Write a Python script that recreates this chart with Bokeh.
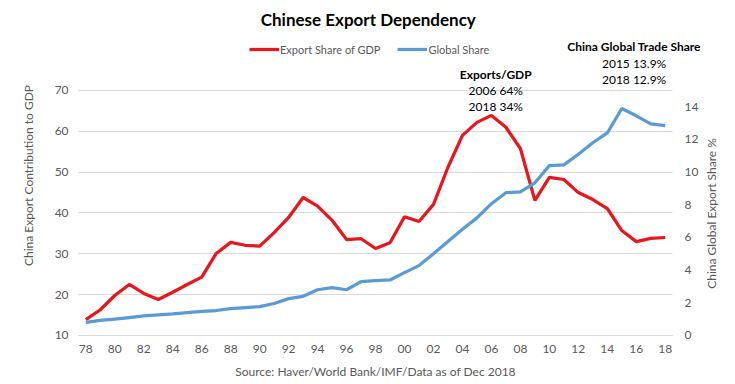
from bokeh.plotting import figure
from bokeh.models import Range1d, LinearAxis, FixedTicker, Label, Legend, LegendItem
from bokeh.embed import file_html
from bokeh.resources import INLINE

years = [1978, 1979, 1980, 1981, 1982, 1983, 1984, 1985, 1986, 1987, 1988, 1989,
         1990, 1991, 1992, 1993, 1994, 1995, 1996, 1997, 1998, 1999, 2000, 2001,
         2002, 2003, 2004, 2005, 2006, 2007, 2008, 2009, 2010, 2011, 2012, 2013,
         2014, 2015, 2016, 2017, 2018]

export_share_gdp = [13.9, 16.3, 19.8, 22.5, 20.3, 18.8, 20.6, 22.5, 24.3, 30.1, 32.8, 32.1,
                    31.9, 35.2, 38.9, 43.8, 41.7, 38.2, 33.5, 33.7, 31.3, 32.7, 39.1, 37.9,
                    42.1, 51.2, 59.0, 62.2, 63.9, 61.0, 55.8, 43.1, 48.7, 48.2, 45.0, 43.3,
                    41.1, 35.7, 33.0, 33.8, 34.0]

global_share = [0.8, 0.92, 1.0, 1.1, 1.2, 1.27, 1.33, 1.4, 1.47, 1.53, 1.65, 1.71,
                1.77, 1.96, 2.26, 2.4, 2.8, 2.93, 2.8, 3.3, 3.36, 3.4, 3.85, 4.28,
                5.0, 5.75, 6.5, 7.2, 8.07, 8.74, 8.8, 9.35, 10.4, 10.45, 11.1, 11.8,
                12.4, 13.9, 13.45, 12.96, 12.85]

x_ticks = [1978, 1980, 1982, 1984, 1986, 1988, 1990, 1992, 1994, 1996, 1998, 2000,
           2002, 2004, 2006, 2008, 2010, 2012, 2014, 2016, 2018]
x_tick_labels = ["78", "80", "82", "84", "86", "88", "90", "92", "94", "96", "98", "00",
                 "02", "04", "06", "08", "10", "12", "14", "16", "18"]

left_ticks = [10, 20, 30, 40, 50, 60, 70]
right_ticks = [0, 2, 4, 6, 8, 10, 12, 14]

title_text = "Chinese Export Dependency"
series_names = ["Export Share of GDP", "Global Share"]
left_label = "China Export Contribution to GDP"
right_label = "China Global Export Share %"
source_text = "Source: Haver/World Bank/IMF/Data as of Dec 2018"
note1_title = "Exports/GDP"
note1_lines = ["2006 64%", "2018 34%"]
note2_title = "China Global Trade Share"
note2_lines = ["2015 13.9%", "2018 12.9%"]

FONT = "Lato"
GREY = "#595959"
RED = "#e8161d"
BLUE = "#5b9bd5"

# plot area of the chart (category axis with half-category padding)
X0, X1 = 1977.5, 2018.5
LEFT_MIN, RIGHT_MIN = 10, 0

# the frame covers the whole canvas; axes are pinned at the plot-area edges
p = figure(width=735, height=384, output_backend="svg", toolbar_location=None,
           x_range=Range1d(1972.11, 2022.85), y_range=Range1d(-2.0, 92.04),
           min_border_left=0, min_border_right=0, min_border_top=0, min_border_bottom=0)
p.title.visible = False
p.extra_y_ranges = {"right": Range1d(-3.0, 20.51)}
p.outline_line_color = None
p.background_fill_color = "white"

r1 = p.line(years, export_share_gdp, line_color=RED, line_width=3.25)
r2 = p.line(years, global_share, line_color=BLUE, line_width=3.25, y_range_name="right")

p.xgrid.visible = False
p.ygrid.grid_line_color = "#d9d9d9"
p.ygrid.ticker = FixedTicker(ticks=left_ticks)
p.ygrid.cross_bounds = (X0, X1)


def style_axis(ax, standoff):
    ax.major_tick_line_color = None
    ax.minor_tick_line_color = None
    ax.major_tick_out = 0
    ax.major_tick_in = 0
    ax.minor_tick_out = 0
    ax.minor_tick_in = 0
    ax.major_label_standoff = standoff
    ax.major_label_text_font = FONT
    ax.major_label_text_font_size = "12px"
    ax.major_label_text_color = GREY


xa = p.xaxis[0]
xa.fixed_location = LEFT_MIN
xa.bounds = (X0, X1)
xa.ticker = FixedTicker(ticks=x_ticks)
xa.major_label_overrides = {t: l for t, l in zip(x_ticks, x_tick_labels)}
xa.axis_line_color = "#d9d9d9"
style_axis(xa, 10)

ya = p.yaxis[0]
ya.fixed_location = X0
ya.ticker = FixedTicker(ticks=left_ticks)
ya.axis_line_color = None
style_axis(ya, 10)

ra = LinearAxis(y_range_name="right", ticker=FixedTicker(ticks=right_ticks), fixed_location=X1)
ra.axis_line_color = None
style_axis(ra, 12)
p.add_layout(ra, "right")

legend = Legend(items=[LegendItem(label=series_names[0], renderers=[r1]),
                       LegendItem(label=series_names[1], renderers=[r2])],
                location=(249, 328), orientation="horizontal",
                padding=0, margin=0, spacing=17, label_standoff=1,
                glyph_width=30, glyph_height=14, label_height=14,
                label_text_font=FONT, label_text_font_size="11px", label_text_color=GREY,
                background_fill_alpha=0, border_line_color=None)
p.add_layout(legend, "center")


def lab(x, y, text, size="12px", bold=False, color="black", angle=0.0):
    p.add_layout(Label(x=x, y=y, text=text, text_font=FONT, text_font_size=size,
                       text_font_style="bold" if bold else "normal", text_color=color,
                       text_align="center", text_baseline="middle", angle=angle))


lab(1997.5, 87.4, title_text, size="17px", bold=True)
lab(2006.3, 73.9, note1_title, size="12px", bold=True)
lab(2006.3, 70.0, note1_lines[0])
lab(2006.3, 66.1, note1_lines[1])
lab(2015.85, 80.8, note2_title, size="12px", bold=True)
lab(2015.85, 76.6, note2_lines[0])
lab(2015.85, 72.7, note2_lines[1])
lab(1998.0, 1.18, source_text, size="12px", color=GREY)
lab(1974.05, 49.18, left_label, size="12px", color=GREY, angle=1.5707963)
lab(2021.16, 39.88, right_label, size="12px", color=GREY, angle=1.5707963)

open("out.html", "w").write(file_html(p, INLINE))
